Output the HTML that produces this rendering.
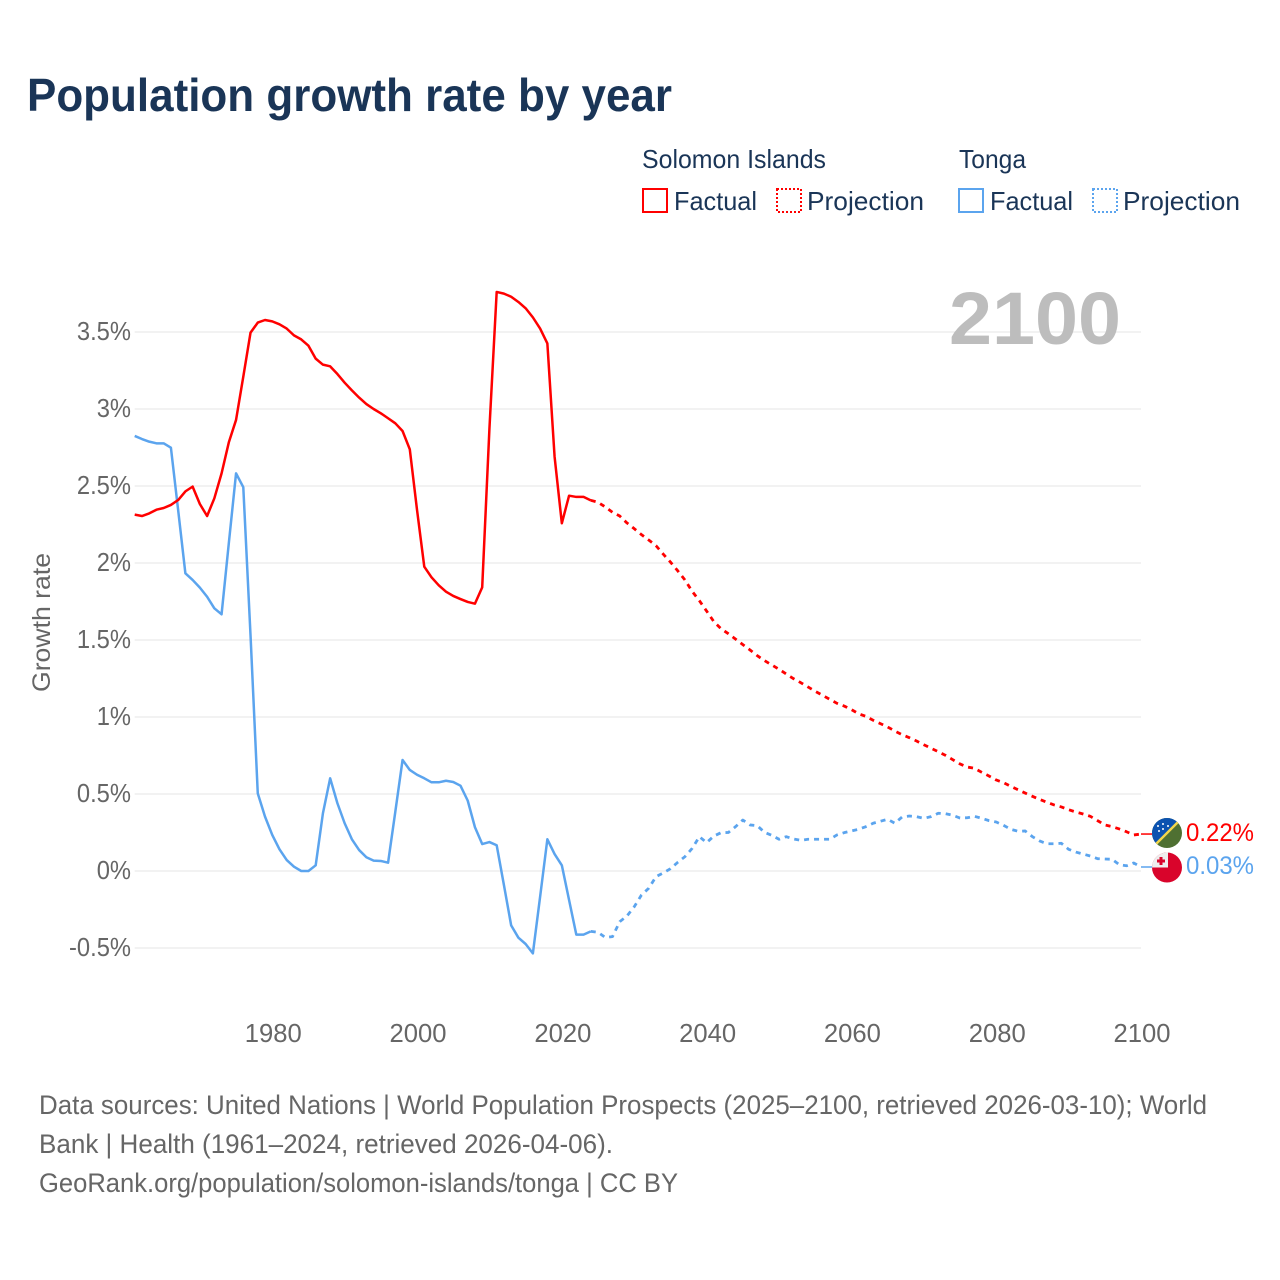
<!DOCTYPE html>
<html lang="en">
<head>
<meta charset="utf-8">
<title>Population growth rate by year</title>
<style>
html,body{margin:0;padding:0;background:#fff;}
svg{display:block;font-family:"Liberation Sans",Arial,sans-serif;}
</style>
</head>
<body>
<svg id="chart" width="1280" height="1280" viewBox="0 0 1280 1280" xmlns="http://www.w3.org/2000/svg">
  <defs>
    <clipPath id="clip-flag-sb"><circle cx="1167" cy="833" r="15"/></clipPath>
    <clipPath id="clip-flag-to"><circle cx="1167" cy="867.5" r="15"/></clipPath>
  </defs>
  <rect x="0" y="0" width="1280" height="1280" fill="#fff"/>
  <text x="27" y="111" font-size="46" font-weight="700" fill="#1a3557" textLength="645" lengthAdjust="spacingAndGlyphs">Population growth rate by year</text>

  <g font-size="26" fill="#1a3557">
    <text x="642" y="168" textLength="184" lengthAdjust="spacingAndGlyphs">Solomon Islands</text>
    <text x="959" y="168" textLength="67" lengthAdjust="spacingAndGlyphs">Tonga</text>
    <rect x="643" y="189" width="24" height="23" fill="none" stroke="#ff0000" stroke-width="2"/>
    <text x="674" y="210" textLength="83" lengthAdjust="spacingAndGlyphs">Factual</text>
    <rect x="777" y="189" width="24" height="23" fill="none" stroke="#ff0000" stroke-width="2" stroke-dasharray="2 2"/>
    <text x="807" y="210" textLength="117" lengthAdjust="spacingAndGlyphs">Projection</text>
    <rect x="959" y="189" width="24" height="23" fill="none" stroke="#5ba4ee" stroke-width="2"/>
    <text x="990" y="210" textLength="83" lengthAdjust="spacingAndGlyphs">Factual</text>
    <rect x="1093" y="189" width="24" height="23" fill="none" stroke="#5ba4ee" stroke-width="2" stroke-dasharray="2 2"/>
    <text x="1123" y="210" textLength="117" lengthAdjust="spacingAndGlyphs">Projection</text>
  </g>

  <text transform="translate(50,692) rotate(-90)" font-size="25" fill="#666" textLength="139" lengthAdjust="spacingAndGlyphs">Growth rate</text>

  <g id="grid"></g>
  <g id="yticks"></g>
  <g id="xticks"></g>

  <text x="949" y="344" font-size="74" font-weight="700" fill="#bdbdbd" textLength="172" lengthAdjust="spacingAndGlyphs">2100</text>

  <g id="series"></g>

  <g clip-path="url(#clip-flag-sb)">
    <rect x="1152" y="818" width="30" height="30" fill="#4f7032"/>
    <polygon points="1152,818 1182,818 1152,848" fill="#0b52b0"/>
    <line x1="1151" y1="849" x2="1183" y2="817" stroke="#f2d64b" stroke-width="2.4"/>
    <circle cx="1158" cy="826" r="1" fill="#fff"/>
    <circle cx="1163" cy="824" r="1" fill="#fff"/>
    <circle cx="1163" cy="829" r="1" fill="#fff"/>
    <circle cx="1159" cy="831" r="1" fill="#fff"/>
    <circle cx="1168" cy="826" r="1" fill="#fff"/>
  </g>
  <g clip-path="url(#clip-flag-to)">
    <rect x="1152" y="852" width="30" height="31" fill="#d9042b"/>
    <rect x="1152" y="852" width="16" height="15.5" fill="#eeeeee"/>
    <rect x="1159.5" y="857" width="3" height="8" fill="#d9042b"/>
    <rect x="1157" y="859.5" width="8" height="3" fill="#d9042b"/>
  </g>
  <text x="1186" y="841" font-size="25" fill="#ff0000" textLength="68" lengthAdjust="spacingAndGlyphs">0.22%</text>
  <text x="1186" y="874" font-size="25" fill="#5ba4ee" textLength="68" lengthAdjust="spacingAndGlyphs">0.03%</text>

  <g font-size="27" fill="#666">
    <text x="39" y="1114" textLength="1168" lengthAdjust="spacingAndGlyphs">Data sources: United Nations | World Population Prospects (2025–2100, retrieved 2026-03-10); World</text>
    <text x="39" y="1153" textLength="574" lengthAdjust="spacingAndGlyphs">Bank | Health (1961–2024, retrieved 2026-04-06).</text>
    <text x="39" y="1192" textLength="639" lengthAdjust="spacingAndGlyphs">GeoRank.org/population/solomon-islands/tonga | CC BY</text>
  </g>
</svg>
<script>
const yTickValues = [-0.5, 0, 0.5, 1, 1.5, 2, 2.5, 3, 3.5];
const yTickLabels = ["-0.5%", "0%", "0.5%", "1%", "1.5%", "2%", "2.5%", "3%", "3.5%"];
const xTickValues = [1980, 2000, 2020, 2040, 2060, 2080, 2100];
const factualStartYear = 1961;
const projectionStartYear = 2024;
const solomonFactual = [2.314,2.305,2.322,2.346,2.357,2.377,2.409,2.465,2.496,2.383,2.305,2.42,2.582,2.783,2.929,3.21,3.496,3.561,3.578,3.569,3.55,3.522,3.478,3.452,3.411,3.327,3.288,3.277,3.227,3.171,3.121,3.074,3.032,3.0,2.972,2.94,2.907,2.857,2.738,2.344,1.976,1.907,1.855,1.814,1.786,1.766,1.747,1.736,1.842,2.874,3.76,3.749,3.729,3.695,3.654,3.595,3.522,3.426,2.69,2.258,2.437,2.429,2.429,2.407];
const solomonProjection = [2.407,2.394,2.364,2.329,2.305,2.26,2.223,2.184,2.149,2.113,2.058,2.006,1.95,1.89,1.816,1.755,1.688,1.619,1.573,1.541,1.506,1.47,1.435,1.398,1.366,1.338,1.31,1.279,1.249,1.223,1.195,1.167,1.141,1.115,1.089,1.071,1.048,1.021,1.004,0.979,0.957,0.935,0.909,0.885,0.866,0.844,0.82,0.797,0.775,0.751,0.723,0.695,0.675,0.667,0.641,0.617,0.591,0.574,0.55,0.528,0.506,0.485,0.465,0.446,0.429,0.416,0.398,0.383,0.37,0.355,0.327,0.299,0.288,0.273,0.255,0.234,0.24];
const tongaFactual = [2.825,2.805,2.788,2.777,2.777,2.749,2.344,1.933,1.89,1.84,1.781,1.706,1.667,2.128,2.582,2.492,1.53,0.504,0.353,0.234,0.141,0.071,0.028,0,0,0.037,0.375,0.602,0.44,0.31,0.206,0.136,0.089,0.067,0.065,0.054,0.385,0.721,0.656,0.625,0.602,0.576,0.576,0.586,0.578,0.554,0.457,0.284,0.175,0.188,0.167,-0.091,-0.353,-0.433,-0.474,-0.535,-0.167,0.206,0.11,0.037,-0.188,-0.413,-0.413,-0.392];
const tongaProjection = [-0.392,-0.398,-0.431,-0.426,-0.329,-0.292,-0.232,-0.156,-0.112,-0.037,-0.013,0.015,0.056,0.093,0.147,0.223,0.184,0.227,0.249,0.25,0.288,0.331,0.299,0.294,0.251,0.232,0.206,0.223,0.208,0.199,0.206,0.206,0.206,0.206,0.234,0.249,0.26,0.271,0.288,0.31,0.323,0.336,0.31,0.351,0.357,0.353,0.342,0.353,0.375,0.372,0.362,0.344,0.346,0.355,0.342,0.327,0.318,0.297,0.271,0.258,0.26,0.223,0.195,0.177,0.177,0.18,0.141,0.123,0.11,0.097,0.08,0.078,0.076,0.041,0.034,0.052,0.026];

const SVGNS = "http://www.w3.org/2000/svg";
const xLeft = 134.7, xRight = 1141, yZero = 871, pxPerPercent = 154;
function xScale(year) { return xLeft + (year - 1961) * (xRight - xLeft) / (2100 - 1961); }
function yScale(value) { return yZero - value * pxPerPercent; }

const gridGroup = document.getElementById("grid");
const yTickGroup = document.getElementById("yticks");
const xTickGroup = document.getElementById("xticks");
const seriesGroup = document.getElementById("series");

yTickValues.forEach(function (v, i) {
  const gridLine = document.createElementNS(SVGNS, "line");
  
  
  gridLine.setAttribute("x1", xLeft);
  gridLine.setAttribute("x2", xRight);
  gridLine.setAttribute("y1", yScale(v));
  gridLine.setAttribute("y2", yScale(v));
  gridLine.setAttribute("stroke", "#eeeeee");
  gridLine.setAttribute("stroke-width", "1.5");
  gridGroup.appendChild(gridLine);

  const label = document.createElementNS(SVGNS, "text");
  
  
  label.setAttribute("x", 131);
  label.setAttribute("y", yScale(v) + 8);
  label.setAttribute("text-anchor", "end");
  label.setAttribute("font-size", "25.5");
  label.setAttribute("fill", "#666");
  label.textContent = yTickLabels[i];
  yTickGroup.appendChild(label);
  label.setAttribute("textLength", (label.getComputedTextLength() * 0.93).toFixed(1));
  label.setAttribute("lengthAdjust", "spacingAndGlyphs");
});

xTickValues.forEach(function (year) {
  const label = document.createElementNS(SVGNS, "text");
  
  
  label.setAttribute("x", xScale(year) + 1);
  label.setAttribute("y", 1042);
  label.setAttribute("text-anchor", "middle");
  label.setAttribute("font-size", "25.5");
  label.setAttribute("fill", "#666");
  label.textContent = String(year);
  xTickGroup.appendChild(label);
  label.setAttribute("textLength", "57");
  label.setAttribute("lengthAdjust", "spacingAndGlyphs");
});

function pointsFor(values, startYear) {
  return values.map(function (v, i) {
    return xScale(startYear + i).toFixed(2) + "," + yScale(v).toFixed(2);
  }).join(" ");
}

function drawLine(values, startYear, color, dashed, name) {
  const line = document.createElementNS(SVGNS, "polyline");
  
  
  line.setAttribute("points", pointsFor(values, startYear));
  line.setAttribute("fill", "none");
  line.setAttribute("stroke", color);
  line.setAttribute("stroke-width", dashed ? "2.8" : "2.5");
  line.setAttribute("stroke-linejoin", "round");
  if (dashed) line.setAttribute("stroke-dasharray", "5 5");
  seriesGroup.appendChild(line);
}

function drawConnector(values, color, name) {
  const last = values[values.length - 1];
  const connector = document.createElementNS(SVGNS, "line");
  
  
  connector.setAttribute("x1", xRight);
  connector.setAttribute("x2", 1152);
  connector.setAttribute("y1", yScale(last));
  connector.setAttribute("y2", yScale(last));
  connector.setAttribute("stroke", color);
  connector.setAttribute("stroke-width", "1.5");
  seriesGroup.appendChild(connector);
}

drawLine(tongaFactual, factualStartYear, "#5ba4ee", false, "tonga-factual-line");
drawLine(tongaProjection, projectionStartYear, "#5ba4ee", true, "tonga-projection-line");
drawLine(solomonFactual, factualStartYear, "#ff0000", false, "solomon-factual-line");
drawLine(solomonProjection, projectionStartYear, "#ff0000", true, "solomon-projection-line");
drawConnector(tongaProjection, "#5ba4ee", "tonga-flag-connector");
drawConnector(solomonProjection, "#ff0000", "solomon-flag-connector");
</script>
</body>
</html>
